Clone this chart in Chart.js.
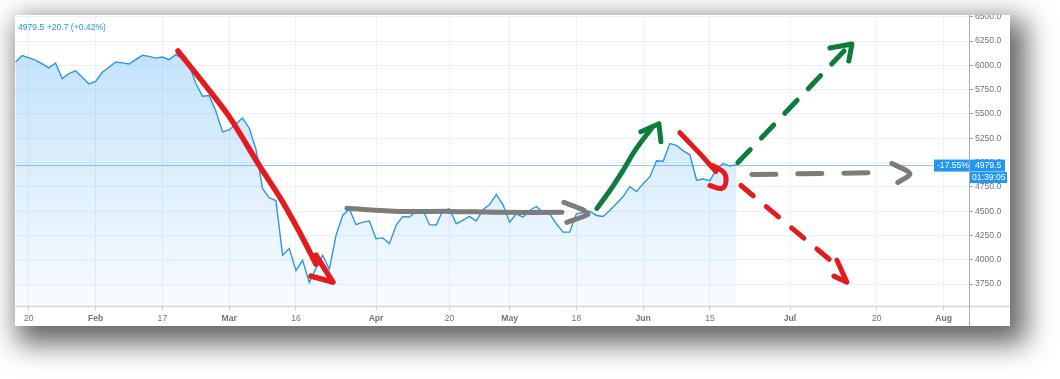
<!DOCTYPE html>
<html>
<head>
<meta charset="utf-8">
<script src="https://cdn.jsdelivr.net/npm/chart.js@4/dist/chart.umd.min.js"></script>
<style>
  html, body { margin:0; padding:0; background:#ffffff; width:1060px; height:379px; overflow:hidden; }
  #box { position:absolute; left:15px; top:15px; width:995px; height:311px; background:#fff; overflow:hidden;
         box-shadow: 9px 11px 26px 7px rgba(0,0,0,0.6); }
  #wrap { position:absolute; left:0; top:-6px; width:995px; height:317px; }
  #legend { position:absolute; left:3px; top:7px; font:8.6px "Liberation Sans", Arial, sans-serif; color:#2196f3; white-space:pre; }
</style>
</head>
<body>
<div id="box">
  <div id="wrap"><canvas id="c" width="995" height="317"></canvas></div>
  <div id="legend">4979.5 +20.7 (+0.42%)</div>
</div>
<script>
// ---- data (x = trading-day index, starting Jan 16) ----
const closeValues = [
  6034, 6100, 6077, 6054, 6016, 5975, 6024, 5864, 5916, 5944,
  5878, 5809, 5834, 5929, 5980, 6034, 6026, 6014, 6059, 6103,
  6093, 6075, 6086, 6059, 6110, 6072, 6011, 5816, 5683, 5690,
  5530, 5315, 5336, 5397, 5458, 5356, 5141, 4732, 4640, 4609,
  4047, 4115, 3888, 3995, 3765, 3914, 4047, 3903, 4251, 4456,
  4522, 4361, 4387, 4398, 4217, 4225, 4166, 4354, 4446, 4440,
  4500, 4514, 4361, 4358, 4507, 4524, 4371, 4405, 4446, 4398,
  4514, 4568, 4671, 4568, 4387, 4473, 4438, 4507, 4548, 4490,
  4473, 4371, 4285, 4285, 4473, 4487, 4500, 4456, 4446, 4507,
  4579, 4650, 4752, 4701, 4783, 4855, 5019, 5013, 5195, 5177,
  5121, 5080, 4819, 4831, 4814, 4937, 4991, 4964, 4979.5
];
const xTickIndex  = [2, 12, 22, 32, 42, 54, 65, 74, 84, 94, 104, 116, 129, 139];
const xTickLabels = ["20", "Feb", "17", "Mar", "16", "Apr", "20", "May", "18", "Jun", "15", "Jul", "20", "Aug"];
const yTickValues = [3750, 4000, 4250, 4500, 4750, 5000, 5250, 5500, 5750, 6000, 6250, 6500];
const xRange = [-0.075, 142.8];
const yRange = [3524.6, 6506.2];
const lastPrice = 4979.5;
const lastPctLabel = "-17.55%";
const countdownLabel = "01:39:05";

// ---- hand-drawn annotations (in index / price units) ----
const redDownShaft  = [[24.33,6148],[28.38,5799],[32.12,5461],[36.61,4959],[39.61,4641],[42.15,4334],[44.1,4078],[45.0,3955]];
const redDownHead   = [[45.0,4047],[47.54,3770],[44.25,3832]];
const grayFlatShaft = [[49.64,4529],[57.58,4498],[65.06,4498],[72.55,4488],[81.84,4488]];
const grayFlatHead  = [[82.13,4590],[84.83,4519],[85.73,4467],[82.58,4385]];
const greenUpShaft  = [[87.08,4529],[89.03,4713],[90.97,4918],[92.77,5123],[95.32,5359]];
const greenUpHead   = [[93.66,5318],[96.36,5400],[96.66,5215]];
const redShortShaft = [[99.5,5307],[102.5,5092],[104.9,4908]];
const redShortHook  = [[104.45,4969],[106.1,4898],[106.4,4805],[105.8,4734],[104.0,4764]];
const greenDashLine = [[108.19,5000],[124.66,6189]];
const greenDashHead = [[121.97,6178],[125.27,6219],[124.8,6045]];
const grayDashLine  = [[110.28,4877],[130.65,4898]];
const grayDashHead  = [[131.25,4990],[133.95,4887],[132.15,4795]];
const redDashLine   = [[108.64,4764],[122.57,3965]];
const redDashHead   = [[123.02,3996],[124.51,3770],[122.57,3832]];

const RED = '#e31b1d', GREEN = '#0e7d3c', GRAY = '#7c7c7c', BLUE = '#2196f3';
const FONT = '"Liberation Sans", Arial, sans-serif';

const pts = a => a.map(p => ({x:p[0], y:p[1]}));
function stroke(data, color, opts) {
  return Object.assign({
    data: pts(data), borderColor: color, borderWidth: 5, pointRadius: 0, fill: false,
    borderCapStyle: 'round', borderJoinStyle: 'round', tension: 0, order: 0, clip: false
  }, opts || {});
}

const overlay = {
  id: 'overlay',
  beforeDatasetsDraw(chart) {
    const {ctx, chartArea:a, scales:{y}} = chart;
    const py = Math.round(y.getPixelForValue(lastPrice)) + 0.5;
    ctx.save();
    ctx.strokeStyle = 'rgba(33,150,243,0.5)';
    ctx.lineWidth = 1;
    ctx.beginPath(); ctx.moveTo(a.left, py); ctx.lineTo(a.right, py); ctx.stroke();
    ctx.restore();
  },
  afterDraw(chart) {
    const {ctx, chartArea:a, scales:{y}, width, height} = chart;
    ctx.save();
    // axis frame lines
    ctx.strokeStyle = '#d3d6db'; ctx.lineWidth = 1.5;
    ctx.beginPath(); ctx.moveTo(0, a.bottom + 0.5); ctx.lineTo(width, a.bottom + 0.5); ctx.stroke();
    ctx.strokeStyle = '#a9adb2'; ctx.lineWidth = 1;
    ctx.beginPath(); ctx.moveTo(Math.round(a.right) + 0.5, 0); ctx.lineTo(Math.round(a.right) + 0.5, height); ctx.stroke();
    // price tags
    const py = y.getPixelForValue(lastPrice) + 1;
    ctx.font = '8.6px ' + FONT;
    ctx.textBaseline = 'middle'; ctx.textAlign = 'left';
    ctx.fillStyle = BLUE;
    ctx.fillRect(a.right + 1, py - 6, 35, 12);
    ctx.fillRect(a.right + 1, py + 6.5, 37, 11);
    ctx.fillRect(a.right - 35, py - 6, 35, 12);
    ctx.fillStyle = '#ffffff';
    ctx.fillText(String(lastPrice.toFixed(1)), a.right + 6, py);
    ctx.fillText(countdownLabel, a.right + 3, py + 12);
    ctx.fillText(lastPctLabel, a.right - 32, py);
    ctx.restore();
  }
};

const ctx = document.getElementById('c').getContext('2d');
new Chart(ctx, {
  type: 'line',
  data: {
    datasets: [
      {
        data: closeValues.map((v, i) => ({x: i, y: v})),
        borderColor: '#2b95e9', borderWidth: 1.4, pointRadius: 0, tension: 0,
        fill: 'start', order: 10,
        backgroundColor: (c) => {
          const a = c.chart.chartArea;
          if (!a) return 'rgba(33,150,243,0.2)';
          const g = c.chart.ctx.createLinearGradient(0, a.top, 0, a.bottom);
          g.addColorStop(0, 'rgba(33,150,243,0.30)');
          g.addColorStop(1, 'rgba(33,150,243,0.03)');
          return g;
        }
      },
      stroke(redDownShaft, RED, {tension: 0.3, borderWidth: 5.5}),
      stroke(redDownHead, RED, {borderWidth: 5.5}),
      stroke(grayFlatShaft, GRAY, {tension: 0.3}),
      stroke(grayFlatHead, GRAY, {tension: 0.2}),
      stroke(greenUpShaft, GREEN, {tension: 0.3}),
      stroke(greenUpHead, GREEN),
      stroke(redShortShaft, RED),
      stroke(redShortHook, RED, {tension: 0.4}),
      stroke(greenDashLine, GREEN, {borderDash: [18, 16]}),
      stroke(greenDashHead, GREEN),
      stroke(grayDashLine, GRAY, {borderDash: [24, 22]}),
      stroke(grayDashHead, GRAY, {tension: 0.3}),
      stroke(redDashLine, RED, {borderDash: [16, 17]}),
      stroke(redDashHead, RED)
    ]
  },
  options: {
    responsive: false,
    animation: false,
    layout: { padding: { top: 6, left: 0, right: 0, bottom: 0 } },
    plugins: { legend: { display: false }, tooltip: { enabled: false } },
    scales: {
      x: {
        type: 'linear', min: xRange[0], max: xRange[1],
        afterBuildTicks: s => { s.ticks = xTickIndex.map(v => ({value: v})); },
        afterFit: s => { s.height = 20; },
        grid: { color: '#edf0f4', lineWidth: 1, tickLength: 4, tickColor: '#c8cbd0' },
        border: { display: false },
        ticks: {
          autoSkip: false, maxRotation: 0, padding: 3, color: '#6f7378',
          font: (c) => ({ family: FONT, size: 8.6, weight: /^[A-Z]/.test(xTickLabels[c.index] || '') ? 'bold' : 'normal' }),
          callback: (v, i) => xTickLabels[i]
        }
      },
      y: {
        position: 'right', min: yRange[0], max: yRange[1],
        afterBuildTicks: s => { s.ticks = yTickValues.map(v => ({value: v})); },
        afterFit: s => { s.width = 41; },
        grid: { color: '#edf0f4', lineWidth: 1, tickLength: 4, tickColor: '#9aa0a6' },
        border: { display: false },
        ticks: { padding: 2, color: '#6f7378', font: { family: FONT, size: 8.6 }, callback: v => Number(v).toFixed(1) }
      }
    }
  },
  plugins: [overlay]
});
</script>
</body>
</html>
